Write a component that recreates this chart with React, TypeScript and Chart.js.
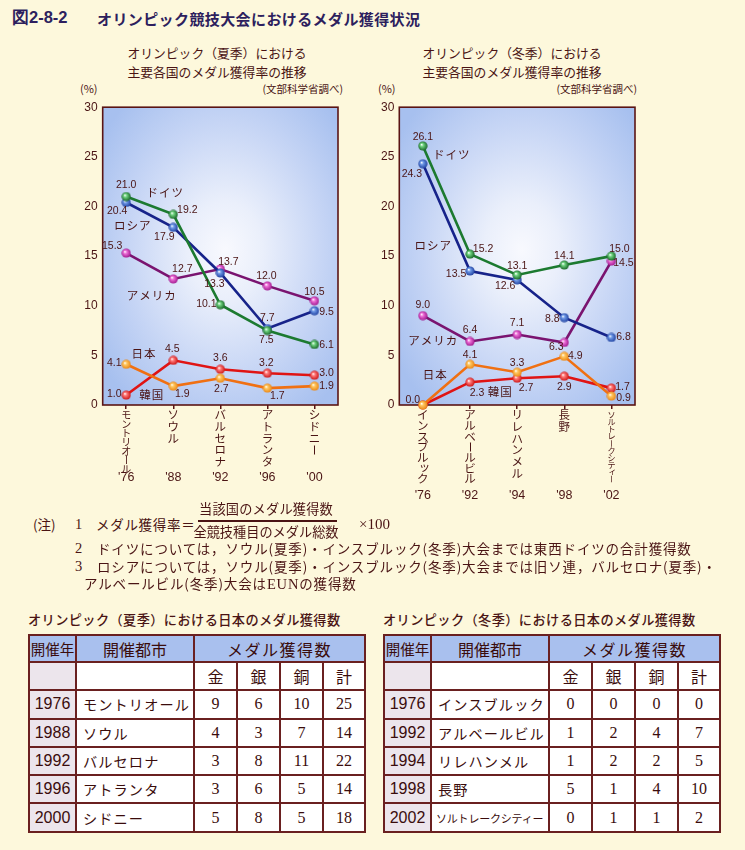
import React, { useEffect, useRef } from 'react';
import { Chart, registerables } from 'chart.js';
Chart.register(...registerables);

// ---------- data ----------
const summerCities = ['モントリオール', 'ソウル', 'バルセロナ', 'アトランタ', 'シドニー'];
const summerYears = ["'76", "'88", "'92", "'96", "'00"];
const winterCities = ['インスブルック', 'アルベールビル', 'リレハンメル', '長野', 'ソルトレークシティー'];
const winterYears = ["'76", "'92", "'94", "'98", "'02"];

const summerGermany = [21.0, 19.2, 10.1, 7.5, 6.1];
const summerRussia = [20.4, 17.9, 13.3, 7.7, 9.5];
const summerUSA = [15.3, 12.7, 13.7, 12.0, 10.5];
const summerJapan = [4.1, 1.9, 2.7, 1.7, 1.9];
const summerKorea = [1.0, 4.5, 3.6, 3.2, 3.0];

const winterGermany = [26.1, 15.2, 13.1, 14.1, 15.0];
const winterRussia = [24.3, 13.5, 12.6, 8.8, 6.8];
const winterUSA = [9.0, 6.4, 7.1, 6.3, 14.5];
const winterJapan = [0.0, 4.1, 3.3, 4.9, 0.9];
const winterKorea = [0.0, 2.3, 2.7, 2.9, 1.7];

const yMin = 0;
const yMax = 30;
const yStep = 5;

const tableMedalHeads = ['金', '銀', '銅', '計'];
const summerTableYears = ['1976', '1988', '1992', '1996', '2000'];
const summerTableCities = ['モントリオール', 'ソウル', 'バルセロナ', 'アトランタ', 'シドニー'];
const summerGold = [9, 4, 3, 3, 5];
const summerSilver = [6, 3, 8, 6, 8];
const summerBronze = [10, 7, 11, 5, 5];
const summerTotal = [25, 14, 22, 14, 18];

const winterTableYears = ['1976', '1992', '1994', '1998', '2002'];
const winterTableCities = ['インスブルック', 'アルベールビル', 'リレハンメル', '長野', 'ソルトレークシティー'];
const winterGold = [0, 1, 1, 5, 0];
const winterSilver = [0, 2, 2, 1, 1];
const winterBronze = [0, 4, 2, 4, 1];
const winterTotal = [0, 7, 5, 10, 2];

// ---------- styles ----------
const MAROON = '#4a1414';
const JP = "'Noto Sans CJK JP', sans-serif";

const STYLE = {
  germany: { line: '#1c7a30', ball: ['#6fd480', '#0f5a1e'] },
  russia: { line: '#17238a', ball: ['#6f9ae8', '#1a3a9a'] },
  usa: { line: '#7a1470', ball: ['#ee70d8', '#9a1088'] },
  japan: { line: '#f07012', ball: ['#ffc860', '#e88010'] },
  korea: { line: '#e01414', ball: ['#ff7a7a', '#c80c0c'] },
};

// label offsets (pixels, label centre relative to point)
const summerOffsets: (number[] | null)[][] = [
  [[0, -11], [14, -4], [-14, -1], [-1, 10], [12, 1]],
  [[-9, 9], [-9, 10], [-6, 11], [0, -10], [12, 1]],
  [[-14, -7], [9, -10], [8, -7], [-1, -10], [0, -9]],
  [[-12, -1], [9, 8], [1, 11], [10, 8], [12, 0]],
  [[-12, -1], [-1, -11], [0, -11], [-1, -10], [12, -2]],
];
const winterOffsets: (number[] | null)[][] = [
  [[0, -9], [13, -5], [0, -9], [0, -9], [8, -7]],
  [[-11, 10], [-14, 3], [-12, 6], [-12, 1], [12, 0]],
  [[0, -11], [0, -11], [0, -11], [-8, 5], [12, 2]],
  [[-10, -5], [0, -9], [0, -9], [11, 0], [12, 2]],
  [null, [7, 11], [9, 10], [0, 11], [11, -1]],
];
// series name annotation spots, in data space (category index, value)
const summerNames = [
  { t: 'ドイツ', i: 0.83, v: 21.35 },
  { t: 'ロシア', i: 0.14, v: 18.1 },
  { t: 'アメリカ', i: 0.54, v: 11.0 },
  { t: '日本', i: 0.38, v: 5.2 },
  { t: '韓国', i: 0.54, v: 1.0 },
];
const winterNames = [
  { t: 'ドイツ', i: 0.61, v: 25.2 },
  { t: 'ロシア', i: 0.22, v: 16.1 },
  { t: 'アメリカ', i: 0.22, v: 6.45 },
  { t: '日本', i: 0.26, v: 3.05 },
  { t: '韓国', i: 1.64, v: 1.3 },
];

function sphere(light: string, dark: string) {
  const c = document.createElement('canvas');
  c.width = 10;
  c.height = 10;
  const g = c.getContext('2d')!;
  const grad = g.createRadialGradient(3.6, 3.6, 0.2, 5, 5, 5);
  grad.addColorStop(0, '#ffffff');
  grad.addColorStop(0.3, light);
  grad.addColorStop(1, dark);
  g.fillStyle = grad;
  g.beginPath();
  g.arc(5, 5, 4.6, 0, Math.PI * 2);
  g.fill();
  return c;
}

type Props = {
  left: number;
  width: number;
  yWidth: number;
  padRight: number;
  cities: string[];
  years: string[];
  series: { key: keyof typeof STYLE; data: number[] }[];
  offsets: (number[] | null)[][];
  names: { t: string; i: number; v: number }[];
  yearDy: number;
  maxSpan: number;
};

function MedalChart(p: Props) {
  const ref = useRef<HTMLCanvasElement>(null);
  useEffect(() => {
    const canvas = ref.current!;
    const bgPlugin = {
      id: 'bg',
      beforeDraw(chart: any) {
        const { ctx, chartArea } = chart;
        const { left, top, right, bottom } = chartArea;
        const w = right - left;
        const h = bottom - top;
        const cx = left + w * 0.52;
        const cy = top + h * 0.48;
        ctx.save();
        ctx.translate(cx, cy);
        ctx.scale(1, 1.3);
        const g = ctx.createRadialGradient(0, 0, 0, 0, 0, w * 0.64);
        g.addColorStop(0, '#f8f9fe');
        g.addColorStop(0.25, '#eaeffb');
        g.addColorStop(0.65, '#c6d5f5');
        g.addColorStop(1, '#a7c0ef');
        ctx.fillStyle = g;
        ctx.fillRect(left - cx, (top - cy) / 1.3, w, h / 1.3);
        ctx.restore();
      },
      beforeDatasetsDraw(chart: any) {
        const { ctx, chartArea } = chart;
        ctx.save();
        ctx.strokeStyle = '#5a1414';
        ctx.lineWidth = 1.6;
        ctx.strokeRect(chartArea.left, chartArea.top, chartArea.right - chartArea.left, chartArea.bottom - chartArea.top);
        ctx.restore();
      },
    };
    const labelPlugin = {
      id: 'vals',
      afterDatasetsDraw(chart: any) {
        const ctx = chart.ctx;
        const xs = chart.scales.x;
        const ys = chart.scales.y;
        ctx.save();
        ctx.textAlign = 'center';
        ctx.textBaseline = 'middle';
        ctx.fillStyle = MAROON;
        ctx.font = "10.5px 'Liberation Sans', Arial, sans-serif";
        chart.data.datasets.forEach((ds: any, di: number) => {
          const meta = chart.getDatasetMeta(di);
          meta.data.forEach((pt: any, i: number) => {
            const off = p.offsets[di][i];
            if (!off) return;
            ctx.fillText(ds.data[i].toFixed(1), pt.x + off[0], pt.y + off[1]);
          });
        });
        ctx.font = `11.5px ${JP}`;
        (ctx as any).letterSpacing = '1px';
        p.names.forEach((n) => {
          ctx.fillText(n.t, xs.getPixelForValue(n.i), ys.getPixelForValue(n.v));
        });
        ctx.restore();
      },
    };
    const xLabelPlugin = {
      id: 'xlab',
      afterDraw(chart: any) {
        const ctx = chart.ctx;
        const xs = chart.scales.x;
        const bottom = chart.chartArea.bottom;
        ctx.save();
        ctx.fillStyle = MAROON;
        ctx.textAlign = 'center';
        ctx.textBaseline = 'middle';
        p.cities.forEach((city, i) => {
          const x = xs.getPixelForValue(i);
          const chars = Array.from(city);
          const step = chars.length > 1 ? Math.min(11.7, p.maxSpan / (chars.length - 1)) : 0;
          const fs = Math.min(11.5, step + 1);
          chars.forEach((ch, k) => {
            const y = bottom + 10 + k * step;
            ctx.font = `${fs}px ${JP}`;
            if (ch === 'ー') {
              ctx.save();
              ctx.translate(x, y);
              ctx.rotate(Math.PI / 2);
              ctx.fillText(ch, 0, 0);
              ctx.restore();
            } else if ('ッィャュョァ'.includes(ch)) {
              ctx.fillText(ch, x + fs * 0.15, y - fs * 0.15);
            } else {
              ctx.fillText(ch, x, y);
            }
          });
          ctx.font = "12.5px 'Liberation Sans', Arial, sans-serif";
          ctx.fillText(p.years[i], x, bottom + p.yearDy);
        });
        ctx.restore();
      },
    };
    const chart = new Chart(canvas, {
      type: 'line',
      data: {
        labels: p.cities,
        datasets: p.series.map((s) => ({
          label: s.key,
          data: s.data,
          borderColor: STYLE[s.key].line,
          borderWidth: 2.6,
          pointStyle: sphere(STYLE[s.key].ball[0], STYLE[s.key].ball[1]) as any,
          pointRadius: 5,
          tension: 0,
          clip: false as any,
        })),
      },
      options: {
        animation: false,
        responsive: false,
        devicePixelRatio: 1,
        layout: { padding: { left: 0, top: 7.7, right: p.padRight, bottom: 0 } },
        plugins: { legend: { display: false }, tooltip: { enabled: false } },
        scales: {
          x: {
            type: 'category',
            offset: true,
            border: { display: false },
            grid: {
              display: true,
              offset: false,
              drawOnChartArea: false,
              drawTicks: true,
              tickLength: 4,
              color: '#5a1414',
              lineWidth: 1.5,
            },
            ticks: { display: false },
            afterFit: (s: any) => {
              s.height = 100;
            },
          },
          y: {
            min: yMin,
            max: yMax,
            border: { display: false },
            grid: { display: false, drawTicks: false },
            ticks: {
              stepSize: yStep,
              color: MAROON,
              padding: 5,
              font: { size: 12, family: "'Liberation Sans', Arial, sans-serif" },
            },
            afterFit: (s: any) => {
              s.width = p.yWidth;
            },
          },
        },
      },
      plugins: [bgPlugin, labelPlugin, xLabelPlugin],
    });
    return () => chart.destroy();
  }, []);
  return (
    <canvas
      ref={ref}
      width={p.width}
      height={410}
      style={{ position: 'absolute', left: p.left, top: 95, width: p.width, height: 410 }}
    />
  );
}

function Txt(props: { x: number; y: number; size: number; children: any; style?: any; center?: boolean; right?: boolean }) {
  const st: any = {
    position: 'absolute',
    top: props.y - props.size * 0.7,
    lineHeight: `${props.size * 1.4}px`,
    fontSize: props.size,
    whiteSpace: 'nowrap',
    color: MAROON,
    fontFamily: JP,
    ...props.style,
  };
  if (props.center) {
    st.left = props.x;
    st.transform = 'translateX(-50%)';
  } else if (props.right) {
    st.right = 745 - props.x;
  } else {
    st.left = props.x;
  }
  return <div style={st}>{props.children}</div>;
}

function MedalTable(p: {
  left: number;
  title: string;
  years: string[];
  cities: string[];
  gold: number[];
  silver: number[];
  bronze: number[];
  total: number[];
}) {
  const bd = '2px solid #6a2020';
  const cell: any = { border: bd, padding: 0, textAlign: 'center', color: '#3a0c0c' };
  const head: any = { ...cell, background: '#a9c0ee', fontFamily: JP, fontSize: 15, fontWeight: 400 };
  const num: any = { ...cell, background: '#ffffff', fontFamily: "'Liberation Serif', 'Times New Roman', serif", fontSize: 16 };
  return (
    <>
      <Txt x={p.left} y={620} size={13.2} style={{ fontWeight: 500, letterSpacing: 0.4 }}>
        {p.title}
      </Txt>
      <table
        style={{
          position: 'absolute',
          left: p.left,
          top: 634,
          borderCollapse: 'collapse',
          tableLayout: 'fixed',
          width: 336,
        }}
      >
        <colgroup>
          <col style={{ width: 47 }} />
          <col style={{ width: 118 }} />
          <col style={{ width: 43 }} />
          <col style={{ width: 43 }} />
          <col style={{ width: 43 }} />
          <col style={{ width: 42 }} />
        </colgroup>
        <tbody>
          <tr style={{ height: 27 }}>
            <td style={{ ...head, fontSize: 14.5 }}>開催年</td>
            <td style={{ ...head, fontSize: 16 }}>開催都市</td>
            <td style={{ ...head, fontSize: 16, letterSpacing: 1.5 }} colSpan={4}>
              メダル獲得数
            </td>
          </tr>
          <tr style={{ height: 28.3 }}>
            <td style={{ ...cell, background: '#ece5ec' }}></td>
            <td style={{ ...cell, background: '#ffffff' }}></td>
            {tableMedalHeads.map((h) => (
              <td key={h} style={{ ...cell, background: '#ffffff', fontFamily: JP, fontSize: 16 }}>
                {h}
              </td>
            ))}
          </tr>
          {p.years.map((y, i) => {
            const city = p.cities[i];
            const long = city.length > 8;
            return (
              <tr key={y} style={{ height: 28.3 }}>
                <td style={{ ...cell, background: '#ece5ec', fontFamily: "'Liberation Sans', Arial, sans-serif", fontSize: 16 }}>
                  {y}
                </td>
                <td
                  style={{
                    ...cell,
                    background: '#ffffff',
                    textAlign: 'left',
                    paddingLeft: long ? 4 : 6,
                    fontFamily: JP,
                    fontSize: long ? 11 : 14.2,
                    letterSpacing: long ? -0.2 : 1.1,
                    whiteSpace: 'nowrap',
                    overflow: 'hidden',
                  }}
                >
                  {city}
                </td>
                <td style={num}>{p.gold[i]}</td>
                <td style={num}>{p.silver[i]}</td>
                <td style={num}>{p.bronze[i]}</td>
                <td style={num}>{p.total[i]}</td>
              </tr>
            );
          })}
        </tbody>
      </table>
    </>
  );
}

export default function App() {
  const serifNum = { fontFamily: "'Liberation Serif', 'Times New Roman', serif" };
  const note = { letterSpacing: 0.85 };
  return (
    <div
      style={{
        position: 'absolute',
        left: 0,
        top: 0,
        width: 745,
        height: 850,
        background: '#fdf8dc',
        overflow: 'hidden',
        fontFamily: JP,
      }}
    >
      {/* figure title */}
      <Txt x={12} y={18} size={16.5} style={{ color: '#2d1f5e', fontWeight: 700, fontFamily: "'Liberation Sans', Arial, sans-serif" }}>
        図2-8-2
      </Txt>
      <Txt x={97} y={18} size={15} style={{ color: '#2d1f5e', fontWeight: 700, letterSpacing: 0.4 }}>
        オリンピック競技大会におけるメダル獲得状況
      </Txt>

      {/* chart titles */}
      <Txt x={217} y={53} size={12.8} center>
        オリンピック（夏季）における
      </Txt>
      <Txt x={217} y={72} size={12.8} center>
        主要各国のメダル獲得率の推移
      </Txt>
      <Txt x={80} y={89} size={11}>
        (%)
      </Txt>
      <Txt x={343} y={89} size={10.5} right>
        (文部科学省調べ)
      </Txt>

      <Txt x={512} y={53} size={12.8} center>
        オリンピック（冬季）における
      </Txt>
      <Txt x={512} y={72} size={12.8} center>
        主要各国のメダル獲得率の推移
      </Txt>
      <Txt x={378} y={89} size={11}>
        (%)
      </Txt>
      <Txt x={637} y={89} size={10.5} right>
        (文部科学省調べ)
      </Txt>

      <MedalChart
        left={60}
        width={290}
        yWidth={42.7}
        padRight={12}
        cities={summerCities}
        years={summerYears}
        series={[
          { key: 'germany', data: summerGermany },
          { key: 'russia', data: summerRussia },
          { key: 'usa', data: summerUSA },
          { key: 'japan', data: summerJapan },
          { key: 'korea', data: summerKorea },
        ]}
        offsets={summerOffsets}
        names={summerNames}
        yearDy={73}
        maxSpan={54}
      />
      <MedalChart
        left={355}
        width={295}
        yWidth={44.3}
        padRight={15}
        cities={winterCities}
        years={winterYears}
        series={[
          { key: 'germany', data: winterGermany },
          { key: 'russia', data: winterRussia },
          { key: 'usa', data: winterUSA },
          { key: 'japan', data: winterJapan },
          { key: 'korea', data: winterKorea },
        ]}
        offsets={winterOffsets}
        names={winterNames}
        yearDy={91}
        maxSpan={64}
      />

      {/* notes */}
      <Txt x={33} y={524} size={13.5}>
        (注)
      </Txt>
      <Txt x={75} y={524} size={14.5} style={serifNum}>
        1
      </Txt>
      <Txt x={96} y={524} size={13.5} style={{ letterSpacing: 0.7 }}>
        メダル獲得率＝
      </Txt>
      <Txt x={266} y={509.5} size={13.2} style={{ letterSpacing: 0.2 }} center>
        当該国のメダル獲得数
      </Txt>
      <div style={{ position: 'absolute', left: 198, top: 520, width: 139, height: 1.5, background: MAROON }} />
      <Txt x={266} y={532} size={13.2} center>
        全競技種目のメダル総数
      </Txt>
      <Txt x={359} y={524} size={15} style={serifNum}>
        ×100
      </Txt>

      <Txt x={75} y={548} size={14.5} style={serifNum}>
        2
      </Txt>
      <Txt x={97} y={548} size={13.5} style={note}>
        ドイツについては，ソウル(夏季)・インスブルック(冬季)大会までは東西ドイツの合計獲得数
      </Txt>
      <Txt x={75} y={566} size={14.5} style={serifNum}>
        3
      </Txt>
      <Txt x={97} y={566} size={13.5} style={note}>
        ロシアについては，ソウル(夏季)・インスブルック(冬季)大会までは旧ソ連，バルセロナ(夏季)・
      </Txt>
      <Txt x={84} y={583} size={13.5} style={note}>
        アルベールビル(冬季)大会は<span style={{ ...serifNum, fontSize: 14.5 }}>EUN</span>の獲得数
      </Txt>

      <MedalTable
        left={28}
        title="オリンピック（夏季）における日本のメダル獲得数"
        years={summerTableYears}
        cities={summerTableCities}
        gold={summerGold}
        silver={summerSilver}
        bronze={summerBronze}
        total={summerTotal}
      />
      <MedalTable
        left={383}
        title="オリンピック（冬季）における日本のメダル獲得数"
        years={winterTableYears}
        cities={winterTableCities}
        gold={winterGold}
        silver={winterSilver}
        bronze={winterBronze}
        total={winterTotal}
      />
    </div>
  );
}
